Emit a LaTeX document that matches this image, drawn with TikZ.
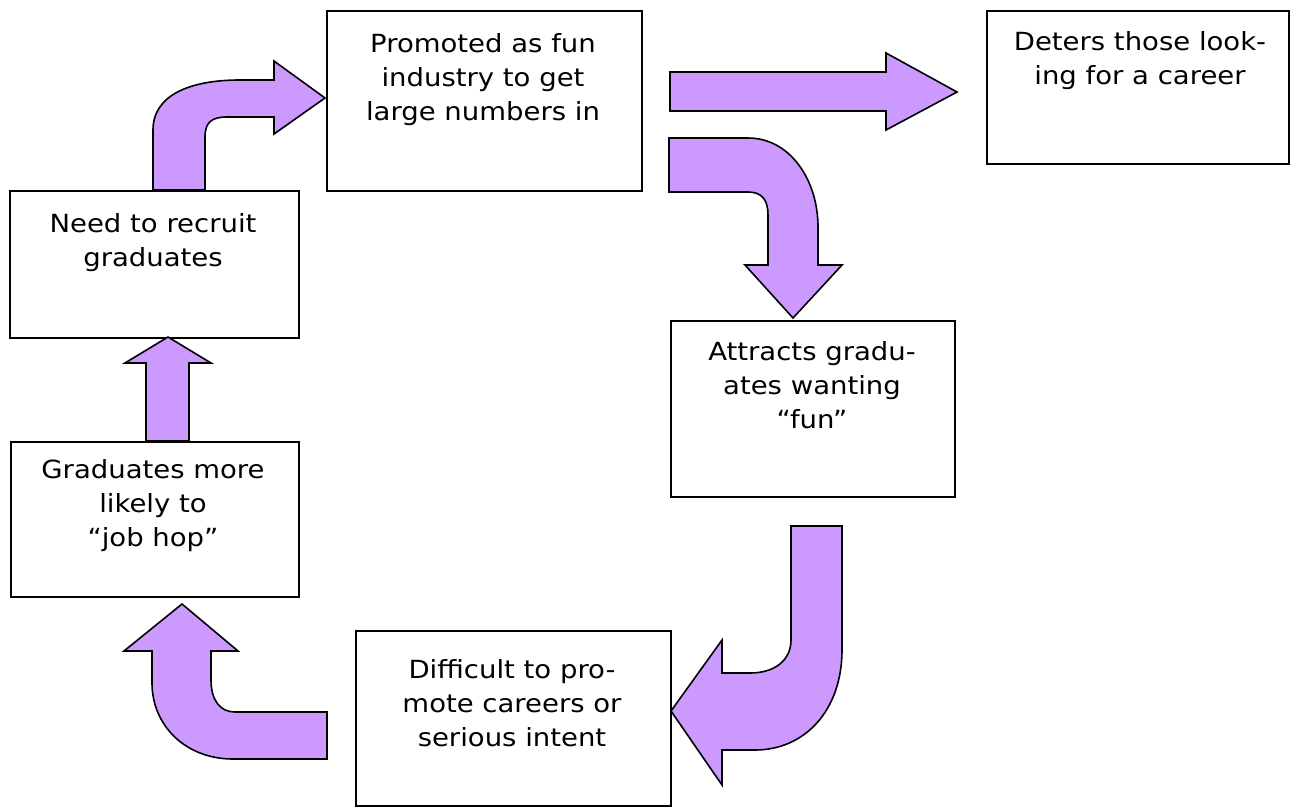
\documentclass[tikz,border=0pt]{standalone}
\usepackage{fontspec}
\setmainfont[FakeStretch=1.1]{DejaVu Sans}
\definecolor{lav}{HTML}{CC99FF}
\tikzset{
  box/.style={draw=black, line width=1.6pt, fill=white, rectangle, inner sep=0pt, anchor=north west},
  boxtext/.style={anchor=north, inner sep=0pt, align=center, font=\fontsize{25}{34}\selectfont},
  blockarrow/.style={draw=black, line width=1.6pt, fill=lav, line join=miter}
}
\begin{document}
\begin{tikzpicture}[x=1pt, y=-1pt]
\useasboundingbox (0,0) rectangle (1297,809);

% boxes
\node[box, minimum width=289pt, minimum height=147pt] (need) at (9,190) {};
\node[box, minimum width=315pt, minimum height=180pt] (promoted) at (326,10) {};
\node[box, minimum width=302pt, minimum height=153pt] (deters) at (986,10) {};
\node[box, minimum width=284pt, minimum height=176pt] (attracts) at (670,320) {};
\node[box, minimum width=288pt, minimum height=155pt] (grads) at (10,441) {};
\node[box, minimum width=315pt, minimum height=175pt] (difficult) at (355,630) {};

% texts
\node[boxtext] (tneed) at (153,213) {Need to recruit\\graduates};
\node[boxtext] (tpromoted) at (483,33) {Promoted as fun\\industry to get\\large numbers in};
\node[boxtext] (tdeters) at (1140,31) {Deters those look-\\ing for a career};
\node[boxtext] (tattracts) at (812,341) {Attracts gradu-\\ates wanting\\“fun”};
\node[boxtext] (tgrads) at (153,459) {Graduates more\\likely to\\“job hop”};
\node[boxtext] (tdifficult) at (512,659) {Difficult to pro-\\mote careers or\\serious intent};

% need -> promoted (curved up-right)
\draw[blockarrow] (153,190) -- (153,130) .. controls (153,95) and (190,80) .. (240,80)
  -- (274,80) -- (274,61) -- (325,98) -- (274,134) -- (274,117) -- (227,117)
  .. controls (212,117) and (205,122) .. (205,137) -- (205,190) -- cycle;

% promoted -> deters (straight right)
\draw[blockarrow] (670,72) -- (886,72) -- (886,53) -- (957,92) -- (886,130) -- (886,111) -- (670,111) -- cycle;

% promoted -> attracts (curved right-down)
\draw[blockarrow] (669,138) -- (748,138) .. controls (790,138) and (818,180) .. (818,227)
  -- (818,265) -- (842,265) -- (793,318) -- (745,265) -- (768,265) -- (768,215)
  .. controls (768,200) and (762,192) .. (748,192) -- (669,192) -- cycle;

% attracts -> difficult (J arrow)
\draw[blockarrow] (791,526) -- (842,526) -- (842,650) .. controls (842,710) and (805,750) .. (755,750)
  -- (722,750) -- (722,785) -- (671,711) -- (722,640) -- (722,673) -- (750,673)
  .. controls (775,673) and (791,660) .. (791,640) -- cycle;

% difficult -> grads (curved left-up)
\draw[blockarrow] (327,712) -- (327,759) -- (233,759) .. controls (185,759) and (152,725) .. (152,683)
  -- (152,651) -- (124,651) -- (182,604) -- (238,651) -- (211,651) -- (211,680)
  .. controls (211,700) and (220,712) .. (235,712) -- cycle;

% grads -> need (straight up)
\draw[blockarrow] (146,441) -- (146,363) -- (125,363) -- (168,337) -- (211,363) -- (189,363) -- (189,441) -- cycle;
\end{tikzpicture}
\end{document}
